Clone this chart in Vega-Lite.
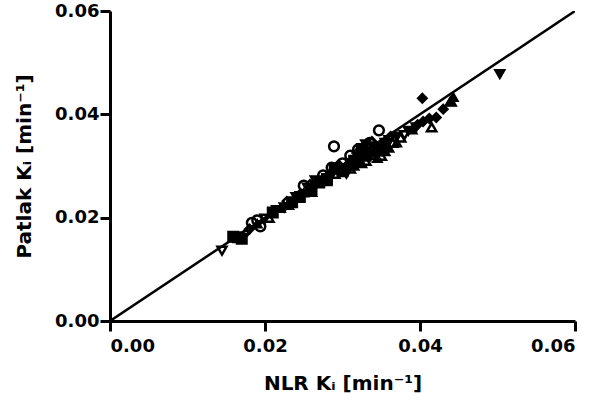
{
  "$schema": "https://vega.github.io/schema/vega-lite/v6.json",
  "width": 465,
  "height": 310,
  "autosize": {"type": "none"},
  "padding": {"left": 110, "top": 11, "right": 25, "bottom": 87},
  "background": "white",
  "config": {
    "view": {"stroke": null},
    "axis": {
      "grid": false,
      "domainColor": "black",
      "domainWidth": 3,
      "tickColor": "black",
      "tickWidth": 3,
      "tickSize": 10,
      "labelFont": "DejaVu Sans",
      "labelFontWeight": "bold",
      "labelFontSize": 18,
      "labelColor": "black",
      "titleFont": "DejaVu Sans",
      "titleFontWeight": "bold",
      "titleFontSize": 20,
      "titleColor": "black"
    }
  },
  "datasets": {
    "pts": [
      {"s": "A", "x": 0.0183, "y": 0.0190}, {"s": "A", "x": 0.0194, "y": 0.0183}, {"s": "A", "x": 0.0289, "y": 0.0338},
      {"s": "A", "x": 0.0347, "y": 0.0369}, {"s": "A", "x": 0.0320, "y": 0.0332}, {"s": "A", "x": 0.0286, "y": 0.0297},
      {"s": "A", "x": 0.0250, "y": 0.0262}, {"s": "A", "x": 0.0300, "y": 0.0305}, {"s": "A", "x": 0.0335, "y": 0.0345},
      {"s": "A", "x": 0.0190, "y": 0.0195}, {"s": "A", "x": 0.0275, "y": 0.0282}, {"s": "A", "x": 0.0310, "y": 0.0320},
      {"s": "B", "x": 0.0159, "y": 0.0163}, {"s": "B", "x": 0.0170, "y": 0.0159}, {"s": "B", "x": 0.0165, "y": 0.0162},
      {"s": "B", "x": 0.0210, "y": 0.0210}, {"s": "B", "x": 0.0235, "y": 0.0230}, {"s": "B", "x": 0.0260, "y": 0.0255},
      {"s": "B", "x": 0.0280, "y": 0.0275}, {"s": "B", "x": 0.0300, "y": 0.0290}, {"s": "B", "x": 0.0315, "y": 0.0310},
      {"s": "B", "x": 0.0330, "y": 0.0320}, {"s": "B", "x": 0.0345, "y": 0.0330}, {"s": "B", "x": 0.0270, "y": 0.0268},
      {"s": "B", "x": 0.0290, "y": 0.0295}, {"s": "B", "x": 0.0325, "y": 0.0333}, {"s": "B", "x": 0.0245, "y": 0.0240},
      {"s": "C", "x": 0.0415, "y": 0.0375}, {"s": "C", "x": 0.0440, "y": 0.0425}, {"s": "C", "x": 0.0350, "y": 0.0320},
      {"s": "C", "x": 0.0330, "y": 0.0310}, {"s": "C", "x": 0.0310, "y": 0.0295}, {"s": "C", "x": 0.0290, "y": 0.0285},
      {"s": "C", "x": 0.0260, "y": 0.0250}, {"s": "C", "x": 0.0230, "y": 0.0225}, {"s": "C", "x": 0.0205, "y": 0.0200},
      {"s": "C", "x": 0.0365, "y": 0.0345}, {"s": "C", "x": 0.0375, "y": 0.0355}, {"s": "C", "x": 0.0340, "y": 0.0322},
      {"s": "D", "x": 0.01445, "y": 0.0136}, {"s": "D", "x": 0.0200, "y": 0.0198}, {"s": "D", "x": 0.0225, "y": 0.0220},
      {"s": "D", "x": 0.0255, "y": 0.0258}, {"s": "D", "x": 0.0285, "y": 0.0280}, {"s": "D", "x": 0.0310, "y": 0.0305},
      {"s": "D", "x": 0.0340, "y": 0.0335}, {"s": "D", "x": 0.0360, "y": 0.0350}, {"s": "D", "x": 0.0380, "y": 0.0360},
      {"s": "D", "x": 0.0395, "y": 0.0375}, {"s": "D", "x": 0.0265, "y": 0.0272},
      {"s": "E", "x": 0.0503, "y": 0.0478}, {"s": "E", "x": 0.0215, "y": 0.0215}, {"s": "E", "x": 0.0240, "y": 0.0240},
      {"s": "E", "x": 0.0265, "y": 0.0262}, {"s": "E", "x": 0.0295, "y": 0.0292}, {"s": "E", "x": 0.0320, "y": 0.0318},
      {"s": "E", "x": 0.0340, "y": 0.0338}, {"s": "E", "x": 0.0355, "y": 0.0345}, {"s": "E", "x": 0.0370, "y": 0.0357},
      {"s": "E", "x": 0.0385, "y": 0.0368}, {"s": "E", "x": 0.0305, "y": 0.0285}, {"s": "E", "x": 0.0330, "y": 0.0342},
      {"s": "F", "x": 0.0403, "y": 0.0431}, {"s": "F", "x": 0.0421, "y": 0.0394}, {"s": "F", "x": 0.0430, "y": 0.0410},
      {"s": "F", "x": 0.0404, "y": 0.0386}, {"s": "F", "x": 0.0397, "y": 0.0380}, {"s": "F", "x": 0.0180, "y": 0.0178},
      {"s": "F", "x": 0.0245, "y": 0.0245}, {"s": "F", "x": 0.0305, "y": 0.0300}, {"s": "F", "x": 0.0325, "y": 0.0322},
      {"s": "F", "x": 0.0352, "y": 0.0340}, {"s": "F", "x": 0.0412, "y": 0.0392},
      {"s": "G", "x": 0.0443, "y": 0.0433}, {"s": "G", "x": 0.0439, "y": 0.0425}, {"s": "G", "x": 0.0390, "y": 0.0370},
      {"s": "G", "x": 0.0360, "y": 0.0335}, {"s": "G", "x": 0.0335, "y": 0.0325}, {"s": "G", "x": 0.0315, "y": 0.0300},
      {"s": "G", "x": 0.0280, "y": 0.0270}, {"s": "G", "x": 0.0250, "y": 0.0248}, {"s": "G", "x": 0.0220, "y": 0.0218},
      {"s": "G", "x": 0.0190, "y": 0.0188}, {"s": "G", "x": 0.0345, "y": 0.0315}, {"s": "G", "x": 0.0325, "y": 0.0305},
      {"s": "G", "x": 0.0355, "y": 0.0328}, {"s": "G", "x": 0.0370, "y": 0.0345},
      {"s": "H", "x": 0.0175, "y": 0.0170}, {"s": "H", "x": 0.0228, "y": 0.0232}, {"s": "H", "x": 0.0258, "y": 0.0265},
      {"s": "H", "x": 0.0295, "y": 0.0303}, {"s": "H", "x": 0.0318, "y": 0.0325}, {"s": "H", "x": 0.0338, "y": 0.0348},
      {"s": "H", "x": 0.0362, "y": 0.0358}
    ],
    "identity": [{"x": 0, "y": 0}, {"x": 0.06, "y": 0.06}]
  },
  "layer": [
    {
      "data": {"name": "identity"},
      "mark": {"type": "line", "color": "black", "strokeWidth": 2.5, "clip": true},
      "encoding": {
        "x": {"field": "x", "type": "quantitative"},
        "y": {"field": "y", "type": "quantitative"}
      }
    },
    {
      "data": {"name": "pts"},
      "mark": {"type": "point", "strokeWidth": 2.5, "opacity": 1},
      "encoding": {
        "x": {
          "field": "x", "type": "quantitative",
          "scale": {"domain": [0, 0.06], "nice": false, "zero": false},
          "axis": {"values": [0, 0.02, 0.04, 0.06], "format": ".2f", "title": "NLR Kᵢ [min⁻¹]", "labelPadding": 6, "titlePadding": 18}
        },
        "y": {
          "field": "y", "type": "quantitative",
          "scale": {"domain": [0, 0.06], "nice": false, "zero": false},
          "axis": {"values": [0, 0.02, 0.04, 0.06], "format": ".2f", "title": "Patlak Kᵢ [min⁻¹]", "labelPadding": 1, "titlePadding": 20}
        },
        "shape": {
          "field": "s", "type": "nominal", "legend": null,
          "scale": {"domain": ["A", "B", "C", "D", "E", "F", "G", "H"],
                    "range": ["circle", "square", "triangle-up", "triangle-down", "triangle-down", "diamond", "triangle-up", "diamond"]}
        },
        "fill": {
          "field": "s", "type": "nominal", "legend": null,
          "scale": {"domain": ["A", "B", "C", "D", "E", "F", "G", "H"],
                    "range": ["transparent", "black", "transparent", "transparent", "black", "black", "black", "transparent"]}
        },
        "stroke": {"value": "black"},
        "size": {
          "field": "s", "type": "nominal", "legend": null,
          "scale": {"domain": ["A", "B", "C", "D", "E", "F", "G", "H"],
                    "range": [95, 60, 75, 75, 55, 40, 55, 60]}
        }
      }
    }
  ]
}
